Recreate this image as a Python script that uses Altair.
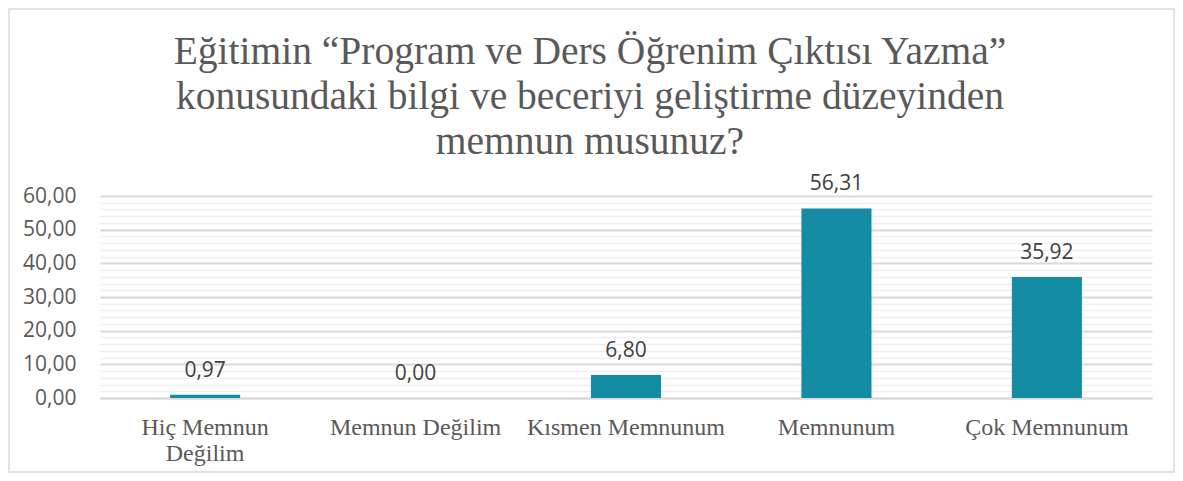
import altair as alt
import pandas as pd

categories = ["Hiç Memnun Değilim", "Memnun Değilim", "Kısmen Memnunum", "Memnunum", "Çok Memnunum"]
values = [0.97, 0.00, 6.80, 56.31, 35.92]
title_lines = [
    "Eğitimin “Program ve Ders Öğrenim Çıktısı Yazma”",
    "konusundaki bilgi ve beceriyi geliştirme düzeyinden",
    "memnun musunuz?",
]

df = pd.DataFrame({"cat": categories, "val": values})
df["lbl"] = [f"{v:.2f}".replace(".", ",") for v in values]

W, H = 1052, 202
PL, PT, PR, PB = 92, 188, 23, 75

x_enc = alt.X(
    "cat:N", sort=categories, title=None,
    scale=alt.Scale(paddingInner=0.667, paddingOuter=0.333),
    axis=alt.Axis(
        labelAngle=0, labelFont="Liberation Serif", labelFontSize=24,
        labelColor="#595959", ticks=False, labelPadding=17, labelLimit=400,
        domainColor="#d9d9d9", domainWidth=2, labelLineHeight=26,
        labelExpr="datum.label == 'Hiç Memnun Değilim' ? ['Hiç Memnun', 'Değilim'] : datum.label",
    ),
)
y_enc = alt.Y(
    "val:Q", title=None,
    scale=alt.Scale(domain=[0, 60], nice=False),
    axis=alt.Axis(
        values=list(range(0, 61, 2)), domain=False, ticks=False,
        labelFont="Open Sans", labelFontSize=21, labelColor="#595959", labelPadding=24,
        labelExpr="datum.value % 10 === 0 ? replace(format(datum.value, '.2f'), '.', ',') : ''",
        gridColor=alt.condition("datum.value % 10 === 0", alt.value("#d9d9d9"), alt.value("#efefef")),
        gridWidth=alt.condition("datum.value % 10 === 0", alt.value(2), alt.value(1.5)),
    ),
)

base = alt.Chart(df).encode(x=x_enc, y=y_enc)
bars = base.mark_bar(color="#148ca3")
labels = base.mark_text(
    font="Open Sans", fontSize=21, color="#404040", baseline="middle", dy=-24
).encode(text="lbl:N")

border = alt.Chart(pd.DataFrame({"a": [0]})).mark_rect(
    fill=None, stroke="#d9d9d9", strokeWidth=1.5, clip=False
).encode(
    x=alt.value(-PL + 1), x2=alt.value(W + PR - 1),
    y=alt.value(-PT + 1), y2=alt.value(H + PB - 1),
)

chart = alt.layer(bars, labels, border).properties(
    width=W, height=H,
    padding={"left": PL, "top": PT, "right": PR, "bottom": PB},
    autosize=alt.AutoSizeParams(type="none"),
    title=alt.TitleParams(
        text=title_lines, font="Liberation Serif", fontSize=39.5, fontWeight="normal",
        color="#595959", anchor="middle", frame="group", lineHeight=45, offset=-154, dx=-36,
    ),
).configure(background="white").configure_view(stroke=None)

chart.save("out.html", embed_options={"renderer": "svg", "actions": False})
